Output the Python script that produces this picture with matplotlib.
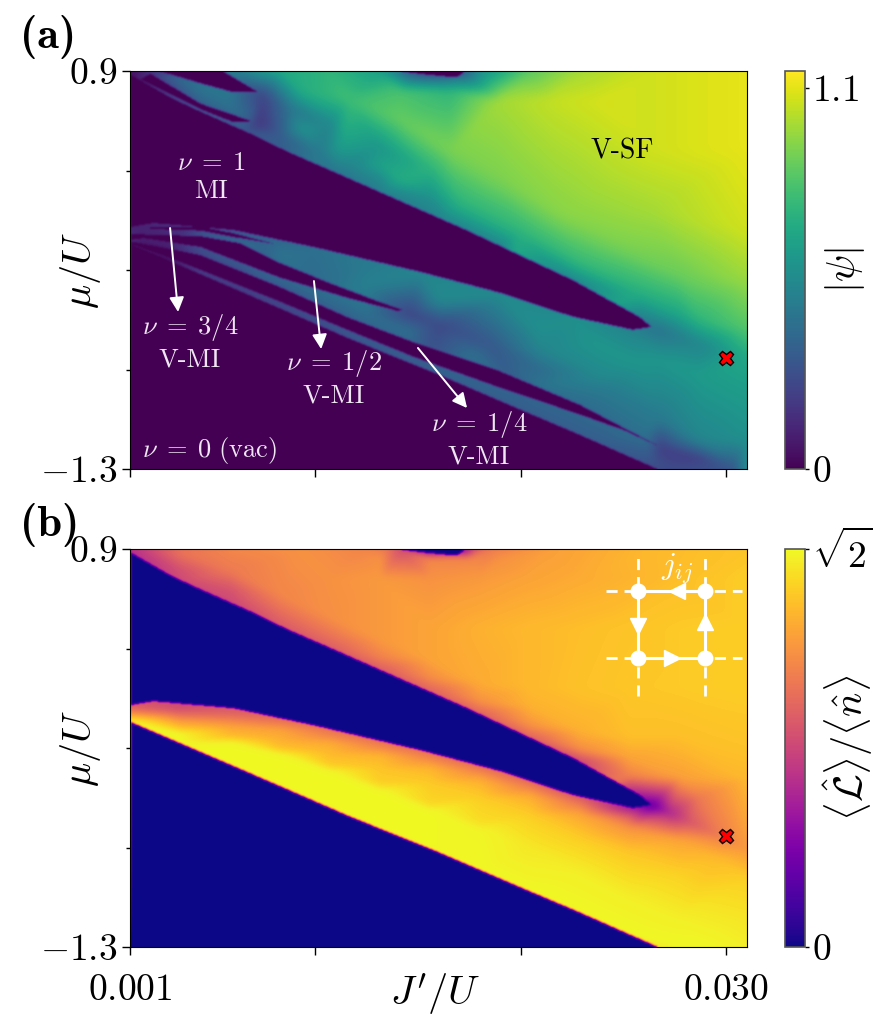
import numpy as np
import matplotlib
matplotlib.use('Agg')
import matplotlib.pyplot as plt
import matplotlib.tri as mtri
from matplotlib.cm import ScalarMappable
from matplotlib.colors import Normalize
from matplotlib.path import Path

plt.rcParams['font.family'] = 'cmr10'
plt.rcParams['mathtext.fontset'] = 'cm'
plt.rcParams['axes.unicode_minus'] = False

J_MIN, J_MAX = 0.001, 0.03102
MU_MIN, MU_MAX = -1.3, 0.9
PSI_MAX = 1.15
PSI_READ_SCALE = 1.1  # psi_val colours were read against a 0-1.1 ramp
RATIO_MAX = np.sqrt(2)
CROSS_J, CROSS_MU = 0.03, -0.687

# |psi| samples outside the insulating lobes
psi_J = [
    .001, .03102, .001, .03102, .00587, .0083, .01073, .01317, .01462, .0156, .0173, .01803, .02046, .0229, .0263,
    .01414, .01608, .01754, .01852,
    .00295, .00441, .00587, .00684, .00197, .00441, .00635,
    .00742, .00879, .01073, .01317, .0156, .00723, .0083, .01025, .01171, .01317, .01560,
    .00927, .01122, .01317, .00927, .01171, .01414, .01657, .01414, .01657, .019, .02144, .02387,
    .01088, .01317, .01608, .019, .02256, .02582,
    .01414, .01706, .01998, .0229, .02582, .02776, .019, .02192, .02484, .02776, .0263, .0263,
    .03102, .03102, .03102, .03102, .03102, .03102, .03102,
    .02679, .02874, .02679, .02874, .02874,
    .0099, .01253, .01511, .019, .02256, .02548, .01253, .01608, .02095, .02387, .02582,
    .01462, .01608, .01852, .02095, .02387, .02679, .02095, .02387,
    .001, .00197, .00441, .00601, .00767, .001, .00441, .00601, .0083,
    .00115, .00295, .00441, .00767, .0099, .01253, .01448, .01769, .02095,
    .02679, .02874, .03045, .0263, .02874,
    .0027, .00441, .00684, .0099, .01253, .01497, .01608, .02042, .02421, .0263, .02728,
]
psi_mu = [
    .9, .9, -1.3, -1.3, .9, .9, .9, .9, .9, .9, .9, .9, .9, .9, .9,
    .85, .85, .85, .85,
    .883, .795, .712, .651, .823, .673, .574,
    .767, .695, .601, .48, .353, .607, .546, .452, .38, .304, .21,
    .585, .491, .38, .795, .74, .629, .463, .795, .795, .74, .74, .74,
    .336, .226, .076, -.078, -.272, -.476,
    .297, .159, -.007, -.172, -.338, -.449, .297, .104, -.062, -.228, .463, .132,
    .463, .021, -.255, -.532, -.698, -.919, -1.14,
    -.532, -.615, -.698, -.78, -.476,
    -.09, -.172, -.228, -.35, -.476, -.554, -.283, -.366, -.532, -.615, -.714,
    -.443, -.504, -.615, -.753, -.891, -1.018, -.642, -.78,
    .021, .054, .049, .016, -.034, .004, .004, -.034, -.1,
    -.029, -.062, -.09, -.217, -.322, -.449, -.532, -.67, -.836,
    -1.179, -1.25, -1.3, -1.096, -1.14,
    -.134, -.211, -.322, -.46, -.587, -.698, -.753, -.946, -1.14, -1.25, -1.3,
]
psi_val = [
    .05, 1.06, 0, .55, .45, .66, .72, .62, .3, .2, .3, .55, .82, .95, 1.02,
    .6, .45, .5, .68,
    .35, .42, .42, .35, .1, .28, .3,
    .22, .42, .5, .58, .7, .15, .32, .45, .5, .52, .56,
    .56, .62, .64, .68, .76, .84, .88, .78, .72, .95, 1.0, 1.03,
    .42, .46, .48, .48, .48, .45,
    .68, .7, .7, .72, .68, .65, .88, .9, .88, .85, 1.02, .95,
    1.06, 1.02, .93, .8, .65, .6, .55,
    .42, .5, .58, .6, .72,
    .4, .45, .5, .52, .55, .5, .48, .52, .55, .58, .58,
    .22, .24, .3, .38, .43, .45, .5, .52,
    .1, .12, .2, .28, .35, .2, .3, .38, .42,
    .08, .1, .25, .36, .38, .4, .4, .4, .42,
    .2, .2, .3, .42, .5,
    .03, .18, .2, .25, .3, .32, .34, .34, .34, .3, .25,
]

# <L>/<n> samples above the big lobe
ratio_up_J = [
    .001, .00343, .00587, .00927, .01219, .01341, .01414, .0156, .0173, .01779, .01852, .02144, .0263, .03102,
    .01317, .0156, .01754, .019,
    .00343, .00343, .00343, .00587, .00587, .00587, .0083, .0083, .0083,
    .01073, .01073, .01073, .01317, .01317, .01317, .0156, .0156, .0156,
    .01803, .01803, .01803, .02046, .02046, .02046, .0229, .0229, .0229,
    .02533, .02533, .02533,
    .01073, .01317, .0156, .01803, .02046, .0229, .02533, .02776, .03102,
    .0156, .01803, .02046, .0229, .02533, .02776, .03102,
    .02046, .0229, .02533, .02776, .03102,
    .02533, .02776, .03102, .02776, .03102,
    .0264, .02728, .02825, .02986, .03102, .02874,
]
ratio_up_mu = [
    .9, .9, .9, .9, .9, .9, .9, .9, .9, .9, .9, .9, .9, .9,
    .85, .85, .85, .85,
    .723, .784, .883, .618, .684, .784, .48, .546, .646,
    .358, .425, .524, .237, .303, .402, .121, .187, .286,
    -.007, .06, .159, -.139, -.073, .027, -.272, -.206, -.106,
    -.421, -.355, -.255,
    .74, .74, .74, .74, .74, .74, .74, .74, .74,
    .463, .463, .463, .463, .463, .463, .463,
    .132, .132, .132, .132, .132,
    -.145, -.145, -.145, -.366, -.366,
    -.521, -.559, -.615, -.692, -.764, -.476,
]
ratio_up_val = [
    .6, .9, 1.0, 1.05, 1.0, .95, .75, .3, .4, .75, .95, 1.1, 1.2, 1.24,
    1.05, 1.0, 1.0, 1.05,
    .72, .75, .92, .72, .78, .95, .8, .88, 1.0,
    .82, .92, 1.04, .82, .98, 1.08, .85, 1.02, 1.12,
    .85, 1.05, 1.15, .85, 1.05, 1.17, .72, 1.03, 1.17,
    .65, .98, 1.12,
    1.05, 1.08, 1.05, 1.08, 1.12, 1.15, 1.18, 1.22, 1.27,
    1.12, 1.17, 1.2, 1.22, 1.24, 1.26, 1.27,
    1.2, 1.23, 1.25, 1.26, 1.27,
    1.22, 1.22, 1.24, 1.1, 1.2,
    .25, .55, .78, .97, 1.08, .95,
]

# <L>/<n> samples below the big lobe, one run of values per J'/U column
ratio_low_J = ([.001] * 3 + [.00343] * 7 + [.00587] * 7 + [.0083] * 7 + [.01073] * 7 + [.01317] * 7
               + [.0156] * 7 + [.01803] * 7 + [.02046] * 6 + [.0229] * 6 + [.02533] * 6
               + [.02776, .02776, .02776, .02776, .03102, .03102, .03102, .02874, .02962, .001])
ratio_low_mu = [
    .032, .004, -.051,
    .043, .016, -.007, -.051, -.084, -.117, -.172,
    .016, -.012, -.034, -.09, -.134, -.167, -.294,
    -.04, -.067, -.1, -.156, -.2, -.233, -.41,
    -.101, -.134, -.172, -.228, -.294, -.327, -.532,
    -.167, -.2, -.239, -.311, -.399, -.432, -.648,
    -.233, -.266, -.311, -.394, -.51, -.543, -.758,
    -.305, -.338, -.383, -.476, -.615, -.653, -.88,
    -.388, -.421, -.465, -.57, -.753, -.996,
    -.476, -.51, -.565, -.698, -.891, -1.112,
    -.537, -.576, -.642, -.78, -1.029, -1.234,
    -.71, -.891, -1.14, -1.3, -.93, -1.14, -1.3, -1.3, -.808, -1.3,
]
ratio_low_val = [
    .8, .95, 1.41,
    .72, .75, .85, 1.1, 1.2, 1.41, 1.41,
    .8, .85, .95, 1.15, 1.2, 1.41, 1.41,
    .88, .98, 1.12, 1.17, 1.22, 1.41, 1.41,
    .92, 1.0, 1.15, 1.2, 1.26, 1.41, 1.41,
    .92, 1.02, 1.18, 1.24, 1.28, 1.41, 1.41,
    .92, 1.03, 1.18, 1.26, 1.3, 1.41, 1.41,
    .9, 1.03, 1.17, 1.27, 1.33, 1.4, 1.41,
    .88, 1.0, 1.15, 1.27, 1.36, 1.41,
    .8, .95, 1.12, 1.27, 1.38, 1.41,
    .5, .8, 1.05, 1.25, 1.38, 1.41,
    1.12, 1.28, 1.38, 1.41, 1.28, 1.35, 1.38, 1.41, 1.2, 0,
]

# lobe outlines (J'/U, mu/U)
lobe_one_J = [.001, .00295, .00441, .00684, .00864, .01088, .01608, .0174, .02256, .02582, .0264,
              .02548, .02256, .019, .01511, .0099, .00601, .00212, .001]
lobe_one_mu = [.883, .756, .679, .557, .458, .347, .087, .021, -.255, -.46, -.515,
               -.532, -.46, -.327, -.211, -.073, .021, .06, .038]
blob_J = [.01389, .01536, .01633, .01696, .0172, .01725]
blob_mu = [.905, .883, .872, .872, .889, .905]
vac_J = [.001, .00441, .00815, .01171, .01608, .01935, .0229, .02664, .02664, .001, .001]
vac_mu = [-.056, -.222, -.405, -.581, -.781, -.941, -1.112, -1.3, -1.31, -1.31, -.056]
top_a_J = [.00548, .00718, .00601, .00441, .00231]
top_a_mu = [.905, .789, .784, .834, .905]
top_b_J = [.00197, .00441, .00694, .00601, .00441, .00149]
top_b_mu = [.889, .723, .624, .618, .69, .856]
frac_34_J = [.00197, .00441, .00601, .00806, .00601, .00441, .00197]
frac_34_mu = [.038, .04, .005, -.056, -.018, .018, .027]
frac_12_J = [.001, .00441, .00635, .0083, .01073, .01317, .01428, .014, .01156, .0083, .00441, .00163, .001]
frac_12_mu = [-.001, -.012, -.051, -.161, -.272, -.377, -.421, -.427, -.355, -.244, -.073, -.023, -.034]
frac_14_J = [.001, .00441, .0083, .01156, .01477, .01886, .0229, .02679, .02508, .0229, .01886, .01477, .01156, .0083, .00441, .0027, .001]
frac_14_mu = [-.04, -.117, -.294, -.46, -.598, -.753, -.946, -1.179, -1.09, -1.002, -.847, -.681, -.532, -.377, -.2, -.123, -.056]

notes_a = [
    (.00494, .314, '$\\nu\\;=\\;1$\nMI'),
    (.00392, -.598, '$\\nu\\;=\\;3/4$\nV-MI'),
    (.01093, -.797, '$\\nu\\;=\\;1/2$\nV-MI'),
    (.01798, -1.134, '$\\nu\\;=\\;1/4$\nV-MI'),
    (.00489, -1.2, r'$\nu\;=\;0\ (\mathrm{vac})$'),
]
arrows_a = [
    ((.00295, .032), (.00334, -.432)),
    ((.00995, -.261), (.0103, -.637)),
    ((.01501, -.631), (.0174, -.963)),
]


def gauss_blur(img, sigma):
    r = int(3 * sigma) + 1
    x = np.arange(-r, r + 1)
    kernel = np.exp(-x ** 2 / (2 * sigma ** 2))
    kernel /= kernel.sum()
    for axis in (0, 1):
        img = np.apply_along_axis(
            lambda v: np.convolve(np.pad(v, r, mode='edge'), kernel, mode='valid'), axis, img)
    return img


def render_field(ax, j, mu, val, outlines, cmap, vmax, sigma):
    # samples -> smooth map, lobes cut out, then softened like the upsampled original
    j = np.asarray(j)
    mu = np.asarray(mu)
    base = mtri.Triangulation(j * 113, mu)  # Delaunay on roughly pixel-square coordinates
    triang = mtri.Triangulation(j, mu, triangles=base.triangles)
    interp = mtri.LinearTriInterpolator(triang, np.asarray(val, dtype=float))

    gj, gm = np.meshgrid(np.linspace(J_MIN, J_MAX, 617), np.linspace(MU_MIN, MU_MAX, 398))
    field = np.ma.filled(interp(gj, gm), 0.0)
    field = gauss_blur(field, sigma)

    pts = np.column_stack([gj.ravel(), gm.ravel()])
    for oj, omu in outlines:
        inside = Path(np.column_stack([oj, omu])).contains_points(pts).reshape(gj.shape)
        field[inside] = 0.0
    field = gauss_blur(field, 1.0)

    ax.imshow(field, origin='lower', extent=[J_MIN, J_MAX, MU_MIN, MU_MAX], aspect='auto',
              cmap=cmap, vmin=0, vmax=vmax, interpolation='bilinear', zorder=1)


def style_axes(ax, show_x):
    ax.set_xlim(J_MIN, J_MAX)
    ax.set_ylim(MU_MIN, MU_MAX)
    ax.set_xticks([.001, .01, .02, .03])
    ax.set_xticklabels(['$0.001$', '', '', '$0.030$'] if show_x else ['', '', '', ''])
    ax.set_yticks([MU_MIN, MU_MAX])
    ax.set_yticklabels(['$-1.3$', '$0.9$'])
    ax.set_yticks([-.75, -.2, .35], minor=True)
    ax.tick_params(axis='y', which='major', labelsize=27, length=6, width=1, pad=3)
    ax.tick_params(axis='x', which='major', labelsize=27, length=6, width=1, pad=13)
    ax.tick_params(axis='y', which='minor', length=3, width=1)
    ax.set_ylabel(r'$\mu/U$', fontsize=29)
    ax.yaxis.set_label_coords(-27 / 617, 0.5)
    if show_x:
        ax.set_xlabel(r"$J'/U$", fontsize=29)
        ax.xaxis.set_label_coords(0.495, -24 / 398)
    ax.plot([CROSS_J], [CROSS_MU], marker='X', markersize=10.5, color='red',
            markeredgecolor='black', markeredgewidth=1, linestyle='none', zorder=6)


def add_colorbar(fig, cax, cmap, vmax, ticks, labels):
    sm = ScalarMappable(norm=Normalize(0, vmax), cmap=cmap)
    cb = fig.colorbar(sm, cax=cax)
    cb.set_ticks(ticks)
    cb.set_ticklabels(labels)
    cb.ax.tick_params(labelsize=27, length=3, width=1, pad=2)
    cb.outline.set_edgecolor('#555555')
    cb.outline.set_linewidth(1.2)


def draw_plaquette(ax):
    xl, xr = .8233, .9319
    yt, yb = .8945, .7261
    kw = dict(transform=ax.transAxes, color='white', zorder=5, clip_on=False)
    for y in (yt, yb):
        ax.plot([.7715, .9919], [y, y], lw=2, ls=(0, (4, 2.5)), **kw)
    for x in (xl, xr):
        ax.plot([x, x], [.6307, .9925], lw=2, ls=(0, (4, 2.5)), **kw)
    ax.plot([xl, xr, xr, xl, xl], [yt, yt, yb, yb, yt], lw=2.2, **kw)
    ax.plot([xl, xr, xl, xr], [yt, yt, yb, yb], marker='o', markersize=10.5, ls='none', **kw)
    ax.plot([.8865], [yt], marker='<', markersize=12, ls='none', **kw)
    ax.plot([xl], [.8065], marker='v', markersize=12, ls='none', **kw)
    ax.plot([.8785], [yb], marker='>', markersize=12, ls='none', **kw)
    ax.plot([xr], [.8155], marker='^', markersize=12, ls='none', **kw)
    ax.text(.887, .95, r'$j_{ij}$', color='white', fontsize=23, ha='center', va='center',
            transform=ax.transAxes, zorder=6)


def main():
    W, H = 877, 1016
    fig = plt.figure(figsize=(W / 100, H / 100), dpi=100)

    ax_a = fig.add_axes([130 / W, 1 - 469 / H, 617 / W, 398 / H])
    ax_b = fig.add_axes([130 / W, 1 - 947 / H, 617 / W, 398 / H])
    cax_a = fig.add_axes([785 / W, 1 - 469 / H, 20 / W, 398 / H])
    cax_b = fig.add_axes([785 / W, 1 - 947 / H, 20 / W, 398 / H])

    viridis = plt.get_cmap('viridis')
    plasma = plt.get_cmap('plasma')

    render_field(ax_a, psi_J, psi_mu, np.asarray(psi_val) * PSI_MAX / PSI_READ_SCALE,
                 [(lobe_one_J, lobe_one_mu), (blob_J, blob_mu), (vac_J, vac_mu),
                  (top_a_J, top_a_mu), (top_b_J, top_b_mu), (frac_34_J, frac_34_mu),
                  (frac_12_J, frac_12_mu), (frac_14_J, frac_14_mu)], viridis, PSI_MAX, 4.5)
    render_field(ax_b, ratio_up_J + ratio_low_J, ratio_up_mu + ratio_low_mu,
                 ratio_up_val + ratio_low_val,
                 [(lobe_one_J, lobe_one_mu), (blob_J, blob_mu), (vac_J, vac_mu)], plasma, RATIO_MAX, 3.0)

    style_axes(ax_a, False)
    style_axes(ax_b, True)

    for x, y, txt in notes_a:
        ax_a.text(x, y, txt, color='#efe6f2', fontsize=19, ha='center', va='center',
                  multialignment='center', linespacing=1.25, zorder=5)
    ax_a.text(.02494, .458, 'V-SF', color='black', fontsize=20, ha='center', va='center', zorder=5)
    for start, end in arrows_a:
        ax_a.annotate('', xy=end, xytext=start, zorder=5,
                      arrowprops=dict(arrowstyle='-|>', color='white', lw=1.4,
                                      mutation_scale=22, shrinkA=0, shrinkB=0))

    draw_plaquette(ax_b)

    add_colorbar(fig, cax_a, viridis, PSI_MAX, [0, 1.1], ['$0$', '$1.1$'])
    add_colorbar(fig, cax_b, plasma, RATIO_MAX, [0, RATIO_MAX], ['$0$', r'$\sqrt{2}$'])
    fig.text(845 / W, 1 - 270 / H, r'$|\psi|$', fontsize=29, rotation=90, ha='center', va='center')
    fig.text(848 / W, 1 - 748 / H, r'$\langle\hat{\mathcal{L}}\rangle/\langle\hat{n}\rangle$',
             fontsize=29, rotation=90, ha='center', va='center')

    fig.text(20 / W, 1 - 37 / H, '(a)', family='cmb10', fontsize=32, ha='left', va='center')
    fig.text(20 / W, 1 - 525 / H, '(b)', family='cmb10', fontsize=32, ha='left', va='center')

    fig.savefig('out.png', dpi=100)
    plt.close(fig)


if __name__ == '__main__':
    main()
